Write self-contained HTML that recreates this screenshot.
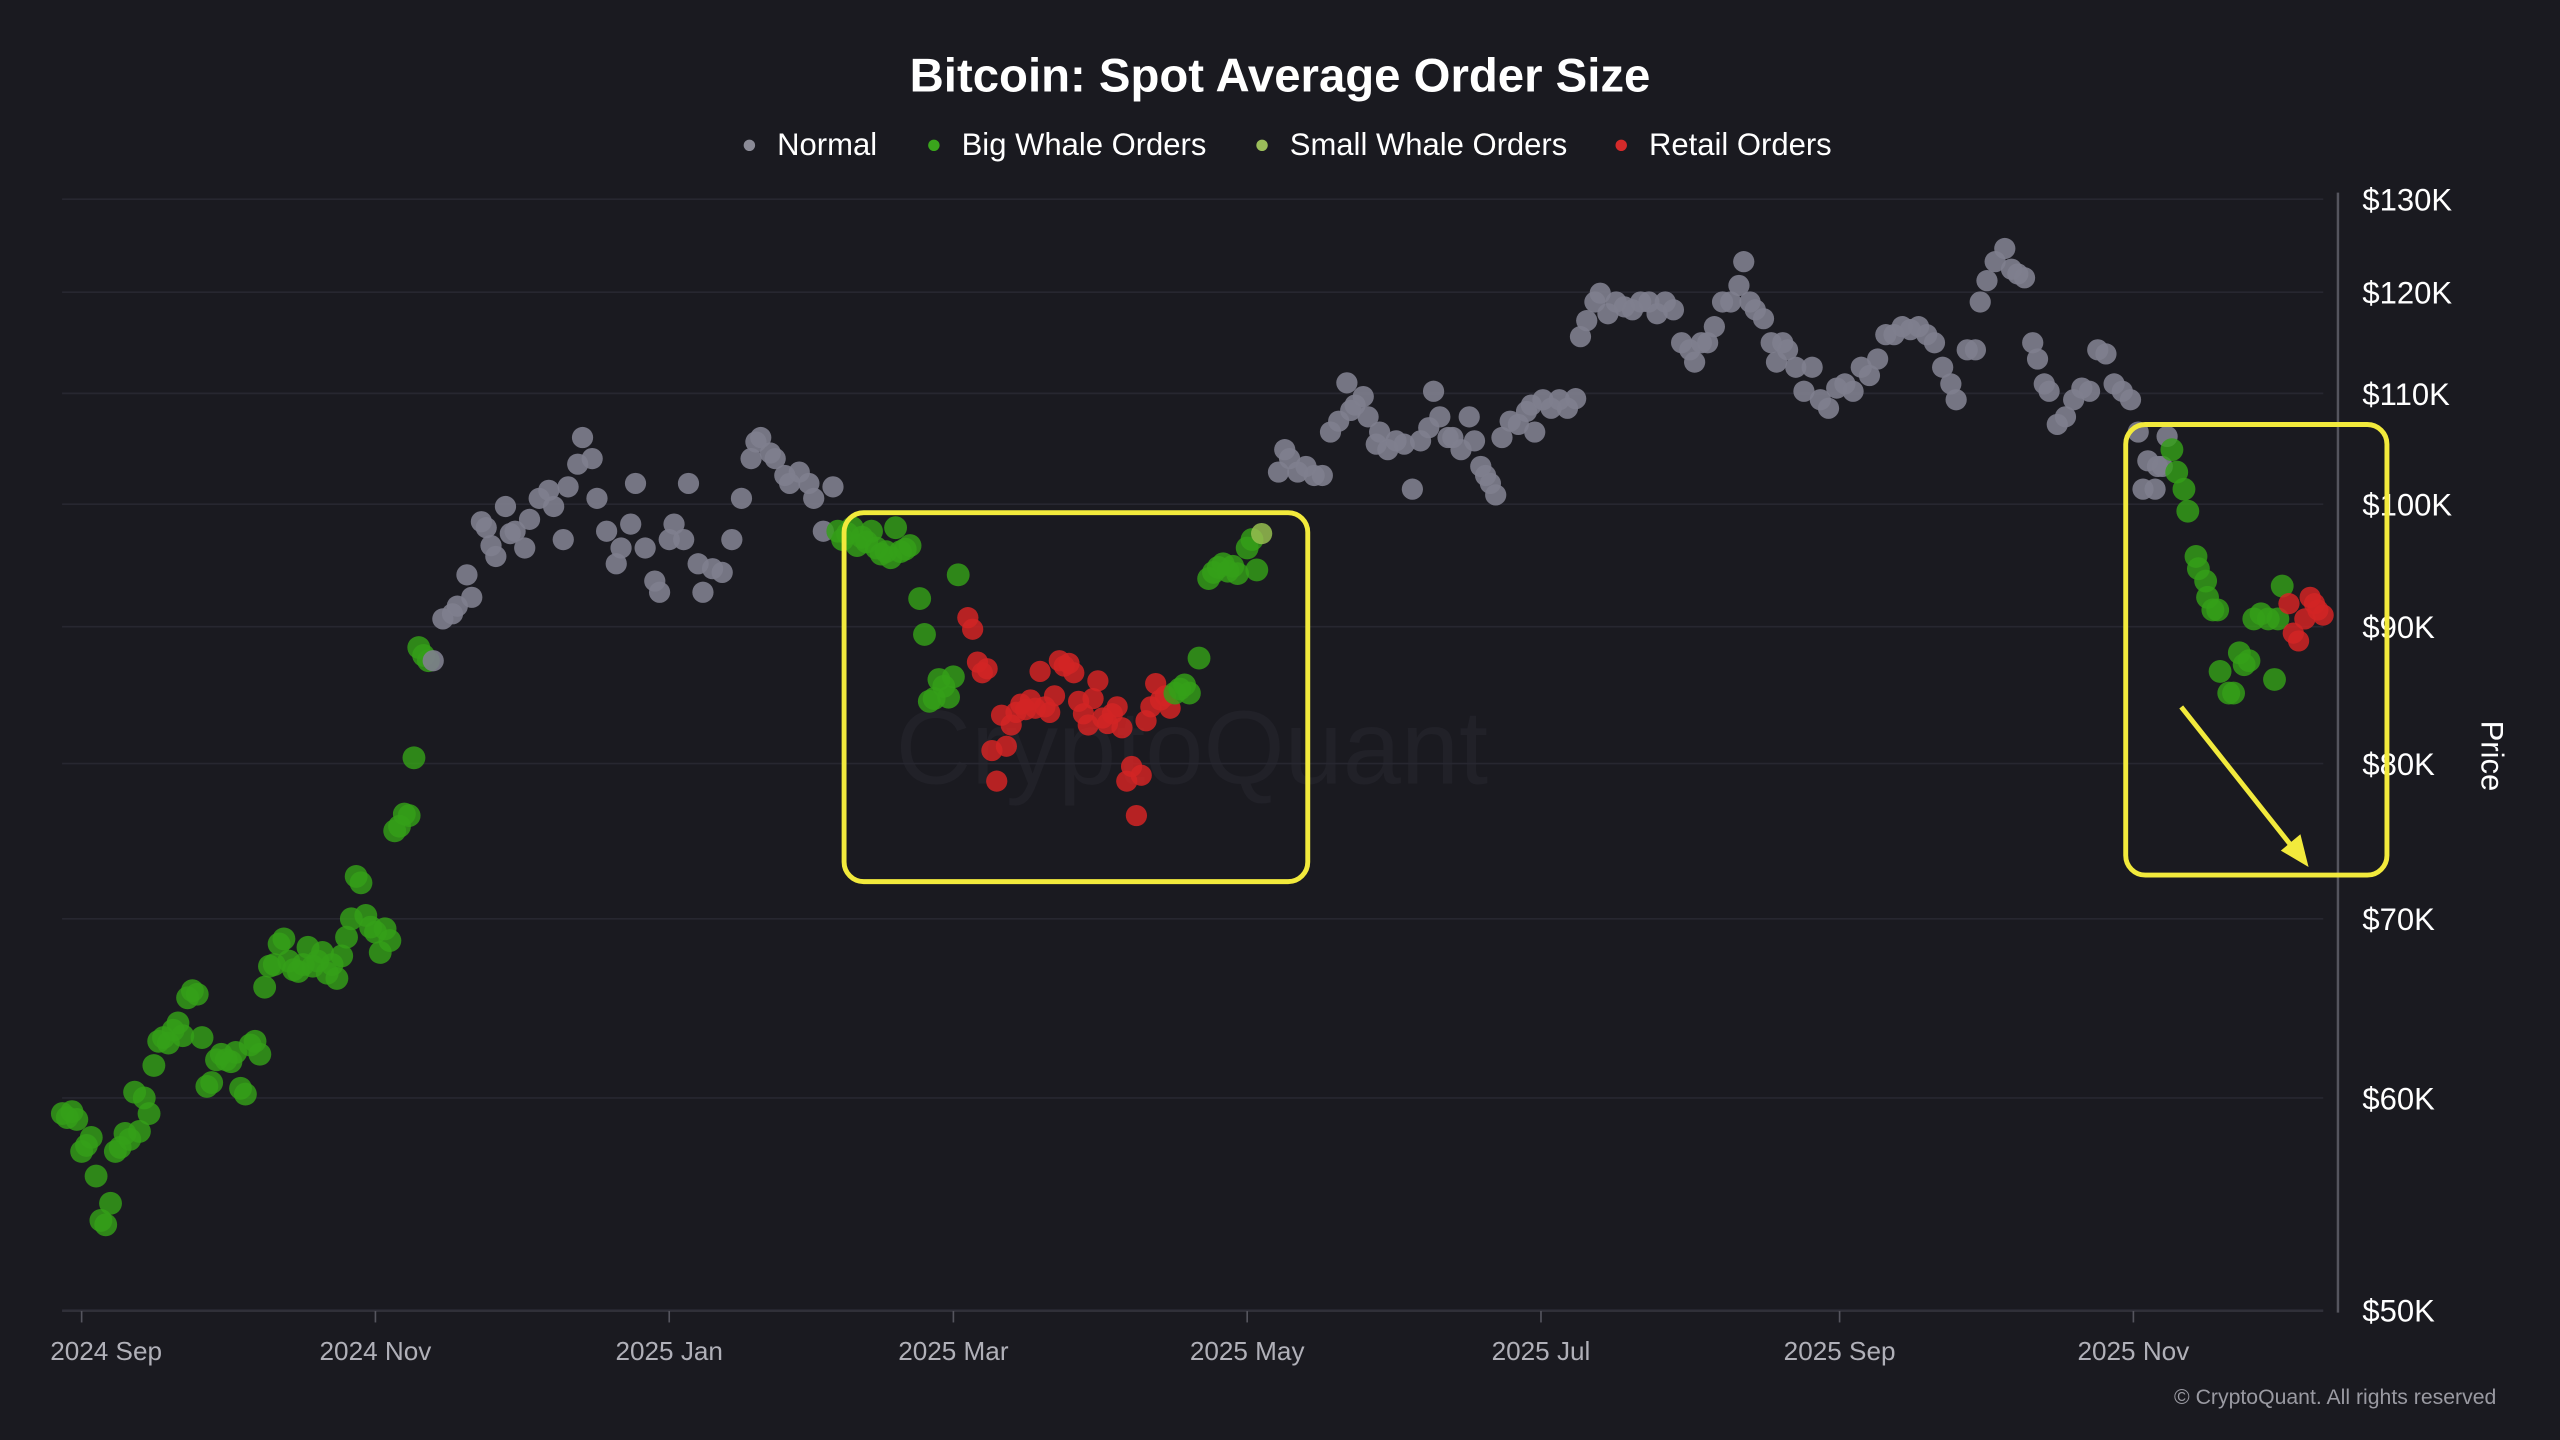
<!DOCTYPE html>
<html><head><meta charset="utf-8"><title>Bitcoin: Spot Average Order Size</title>
<style>
html,body{margin:0;padding:0;background:#1a1a20;}
svg{display:block;font-family:"Liberation Sans",sans-serif;}
</style></head>
<body>
<svg id="chart" width="2560" height="1440" viewBox="0 0 1568 882" xmlns="http://www.w3.org/2000/svg">
<rect x="0" y="0" width="1568" height="882" fill="#1a1a20"/>
<text x="784" y="56" text-anchor="middle" fill="#ffffff" font-size="29" font-weight="bold">Bitcoin: Spot Average Order Size</text>
<g>
 <g><circle cx="459" cy="89" r="3.5" fill="#8a8a96"/><text x="476" y="95" fill="#fff" font-size="19">Normal</text></g>
 <g><circle cx="572" cy="89" r="3.5" fill="#3aa51c"/><text x="589" y="95" fill="#fff" font-size="19">Big Whale Orders</text></g>
 <g><circle cx="773" cy="89" r="3.5" fill="#9bbd5a"/><text x="790" y="95" fill="#fff" font-size="19">Small Whale Orders</text></g>
 <g><circle cx="993" cy="89" r="3.5" fill="#d42a2a"/><text x="1010" y="95" fill="#fff" font-size="19">Retail Orders</text></g>
</g>
<text x="730" y="480" text-anchor="middle" fill="#212128" font-size="64">CryptoQuant</text>
<g id="grid"></g>
<g id="yaxis"></g>
<g id="xaxis"></g>
<g id="points"></g>
<g>
 <rect x="517" y="314" width="284" height="226" rx="12" fill="none" stroke="#f2ea3c" stroke-width="3"/>
 <rect x="1302" y="260" width="160" height="276" rx="12" fill="none" stroke="#f2ea3c" stroke-width="3"/>
 <line x1="1336" y1="433" x2="1405" y2="520" stroke="#f2ea3c" stroke-width="3"/>
 <polygon points="1414,531 1397,521 1409,511" fill="#f2ea3c"/>
</g>
<text x="1520" y="463" fill="#fff" font-size="19" transform="rotate(90 1520 463)" text-anchor="middle">Price</text>
<text x="1529" y="860" text-anchor="end" fill="#9a9aa2" font-size="13">© CryptoQuant. All rights reserved</text>
</svg>
<script>
// days since 2024-09-01, prices in $K, category: 0 normal, 1 big whale, 2 small whale, 3 retail
const days = [
-4,-3,-2,-1,0,1,2,3,4,5,6,7,8,9,10,11,12,13,14,15,16,17,18,19,20,21,22,23,24,25,26,27,28,29,30,31,32,33,34,35,36,37,38,39,40,41,42,43,44,45,46,47,48,49,50,51,52,53,54,55,56,57,58,59,60,61,62,63,64,65,66,67,68,69,70,71,72,
73,75,77,78,80,81,83,84,85,86,88,89,90,92,93,95,97,98,100,101,103,104,106,107,109,111,112,114,115,117,119,120,122,123,125,126,128,129,131,133,135,137,139,140,141,143,144,146,147,149,151,152,154,156,
157,158,159,160,161,162,163,164,165,166,167,168,169,170,171,172,174,175,176,177,178,179,180,181,182,
184,185,186,187,188,189,190,191,192,193,194,195,196,197,198,199,200,201,202,203,204,205,206,207,208,209,210,211,212,213,214,215,216,217,218,219,220,221,222,223,224,225,226,
227,228,229,230,232,234,235,236,237,238,239,240,242,243,244,245,
248.5,249.8,250.8,252.5,254.2,255.9,257.6,259.3,261,262.7,263.5,264.4,266.1,267.1,268.8,269.5,271.2,272.9,274.6,276.3,278,279.7,280.7,282,283.7,284.7,286.4,288.1,289.2,290.5,291.5,292.5,293.6,294.9,296.6,298.3,300,301,301.7,303.4,305.1,306.8,308.5,310.2,311.2,312.5,314.2,315.3,316.9,318.6,320.3,322,323.7,325.4,327.1,328.8,330.5,332.2,333.9,334.9,336.3,337.6,339,340.7,342.4,344.1,345.1,346.4,347.5,349.2,350.8,351.9,353.2,354.2,355.9,357.6,359.3,361,362.7,364.4,366.1,367.8,369.5,371.2,372.9,374.6,376.3,378,379.7,381.4,383.1,384.7,386.4,388.1,389.2,391.5,393.2,394.2,395.6,397.3,399.3,400.7,402,403.4,405.1,406.1,407.5,408.5,410.2,411.9,413.6,415.3,416.9,418.6,420.3,422,423.7,425.4,
427,428,429,430.5,431,432,433,434,435,436.5,437.3,439,439.5,441,441.4,442.5,443.5,444,445.8,446.8,448,449,
450,451,452.5,454,455.3,456,456.9,458.3,459.2,460.3,461.6,462.7,463.6,464.3,465.4
];
const prices = [
59.2,59.0,59.3,58.9,57.3,57.6,58.0,56.1,54.0,53.8,54.8,57.3,57.5,58.2,57.9,60.3,58.3,60.0,59.2,61.7,63.0,63.2,62.9,63.6,64.0,63.3,65.4,65.8,65.6,63.2,60.6,60.8,62.0,62.3,62.0,61.9,62.4,60.5,60.2,62.8,63.0,62.3,66.0,67.2,67.3,68.5,68.8,67.5,67.0,66.9,67.3,68.3,67.2,67.5,68.0,66.8,67.3,66.5,67.8,68.9,70.0,72.6,72.2,70.2,69.5,69.2,68.0,69.4,68.7,75.5,75.8,76.6,76.5,80.4,88.4,87.8,87.4,
87.4,90.6,91.0,91.6,94.1,92.3,98.5,98.0,96.5,95.6,99.8,97.5,97.7,96.3,98.7,100.5,101.2,99.8,97.0,101.5,103.5,105.9,104.0,100.5,97.7,95.0,96.3,98.3,101.8,96.3,93.6,92.7,97.0,98.3,97.0,101.8,95.0,92.7,94.6,94.3,97.0,100.5,104.0,105.5,105.9,104.5,104.0,102.5,101.8,102.8,101.8,100.5,97.7,101.5,
97.7,97.0,97.5,98.0,96.5,97.2,96.8,97.7,96.3,95.8,96.0,95.5,98.0,96.0,96.2,96.5,92.2,89.4,84.4,84.6,86.0,85.5,84.7,86.2,94.1,
90.7,89.8,87.3,86.5,86.8,80.9,78.8,83.4,81.2,82.7,83.6,84.2,83.8,84.5,83.9,86.6,84.0,83.6,84.8,87.4,87.0,87.2,86.5,84.4,83.5,82.7,84.6,85.9,83.2,82.8,83.5,84.0,82.5,78.8,79.8,76.5,79.2,83.0,84.0,85.7,84.5,84.8,83.9,
85.0,85.3,85.6,85.0,87.6,93.8,94.3,94.7,95.0,94.4,94.8,94.2,96.3,97.0,94.5,97.5,
102.8,104.8,104.0,102.8,103.3,102.5,102.5,106.4,107.4,111.0,108.4,108.9,109.7,107.8,105.3,106.4,104.8,105.6,105.3,101.3,105.6,106.8,110.2,107.8,105.9,105.9,104.8,107.8,105.6,103.3,102.5,101.8,100.8,105.9,107.4,107.1,108.3,108.9,106.4,109.4,108.6,109.4,108.6,109.5,115.5,117.1,119.0,119.9,117.8,119.0,118.5,118.2,119.0,119.0,117.8,119.0,118.2,114.9,114.2,113.0,114.9,114.9,116.5,119.0,119.0,120.7,123.2,119.0,118.2,117.3,114.9,113.0,114.9,114.2,112.5,110.2,112.5,109.4,108.6,110.5,110.9,110.2,112.5,111.7,113.3,115.7,115.7,116.5,116.2,116.5,115.7,114.9,112.5,110.9,109.4,114.2,114.2,119.0,121.2,123.2,124.6,122.4,121.9,121.5,114.9,113.3,110.9,110.2,107.1,107.8,109.4,110.5,110.2,114.2,113.8,110.9,110.2,109.4,
106.4,101.3,103.8,101.3,103.3,103.3,106.0,104.8,102.8,101.3,99.4,95.6,94.6,93.6,92.3,91.3,91.3,86.6,85.0,85.0,88.0,87.1,
87.4,90.6,91.0,90.6,86.0,90.6,93.2,91.8,89.5,88.9,90.6,92.3,91.8,91.3,90.9
];
const cats = [
1,1,1,1,1,1,1,1,1,1,1,1,1,1,1,1,1,1,1,1,1,1,1,1,1,1,1,1,1,1,1,1,1,1,1,1,1,1,1,1,1,1,1,1,1,1,1,1,1,1,1,1,1,1,1,1,1,1,1,1,1,1,1,1,1,1,1,1,1,1,1,1,1,1,1,1,1,
0,0,0,0,0,0,0,0,0,0,0,0,0,0,0,0,0,0,0,0,0,0,0,0,0,0,0,0,0,0,0,0,0,0,0,0,0,0,0,0,0,0,0,0,0,0,0,0,0,0,0,0,0,0,
1,1,1,1,1,1,1,1,1,1,1,1,1,1,1,1,1,1,1,1,1,1,1,1,1,
3,3,3,3,3,3,3,3,3,3,3,3,3,3,3,3,3,3,3,3,3,3,3,3,3,3,3,3,3,3,3,3,3,3,3,3,3,3,3,3,3,3,3,
1,1,1,1,1,1,1,1,1,1,1,1,1,1,1,2,
0,0,0,0,0,0,0,0,0,0,0,0,0,0,0,0,0,0,0,0,0,0,0,0,0,0,0,0,0,0,0,0,0,0,0,0,0,0,0,0,0,0,0,0,0,0,0,0,0,0,0,0,0,0,0,0,0,0,0,0,0,0,0,0,0,0,0,0,0,0,0,0,0,0,0,0,0,0,0,0,0,0,0,0,0,0,0,0,0,0,0,0,0,0,0,0,0,0,0,0,0,0,0,0,0,0,0,0,0,0,0,0,0,0,0,0,0,0,0,0,0,0,0,0,0,
1,1,1,1,1,1,1,1,1,1,1,1,1,1,1,1,1,1,1,1,1,1,
3,3,3,3,3,3,3,3,3,3,3,3,3,3,3
];
const yTicks = [50,60,70,80,90,100,110,120,130];
const xTickDays = [0,61,122,181,242,303,365,426];
const xTickLabels = ["2024 Sep","2024 Nov","2025 Jan","2025 Mar","2025 May","2025 Jul","2025 Sep","2025 Nov"];

const NS = "http://www.w3.org/2000/svg";
const X0 = 50, PX_PER_DAY = 2.95, YTOP = 122, YK = 712, PMAX = 130;
function xScale(d){ return X0 + d * PX_PER_DAY; }
function yScale(p){ return YTOP + YK * Math.log(PMAX / p); }
const colors = ["rgba(128,128,142,0.9)","rgba(52,160,24,0.82)","rgba(150,190,80,0.85)","rgba(210,36,36,0.85)"];
const catNames = ["normal","big-whale","small-whale","retail"];
function mk(tag, attrs){ const e = document.createElementNS(NS, tag); for (const k in attrs) e.setAttribute(k, attrs[k]); return e; }

const grid = document.getElementById('grid');
const yaxis = document.getElementById('yaxis');
yTicks.forEach(function(t){
  const y = yScale(t);
  const l = mk('line', {x1:38, x2:1423, y1:y, y2:y, stroke:'#272730', 'stroke-width':1});
  
  
  grid.appendChild(l);
  const tx = mk('text', {x:1447, y:y+7, fill:'#ffffff', 'font-size':19});
  tx.textContent = '$' + t + 'K';
  
  
  yaxis.appendChild(tx);
});
const axl = mk('line', {x1:1432, x2:1432, y1:118, y2:804, stroke:'#55555e', 'stroke-width':1.5});


yaxis.appendChild(axl);

const xaxis = document.getElementById('xaxis');
const bl = mk('line', {x1:38, x2:1423, y1:803, y2:803, stroke:'#33333c', 'stroke-width':1});


xaxis.appendChild(bl);
xTickDays.forEach(function(d, i){
  const x = xScale(d);
  const tk = mk('line', {x1:x, x2:x, y1:803, y2:810, stroke:'#55555e', 'stroke-width':1});
  
  
  xaxis.appendChild(tk);
  const tx = mk('text', {x:Math.max(x, 65), y:833, fill:'#b0b0b8', 'font-size':16, 'text-anchor':'middle'});
  tx.textContent = xTickLabels[i];
  
  
  xaxis.appendChild(tx);
});

const pts = document.getElementById('points');
for (let i = 0; i < days.length; i++){
  const c = cats[i];
  const r = c === 1 ? 7 : 6.5;
  const circ = mk('circle', {cx:xScale(days[i]), cy:yScale(prices[i]), r:r, fill:colors[c]});
  
  
  pts.appendChild(circ);
}
</script>
</body></html>
